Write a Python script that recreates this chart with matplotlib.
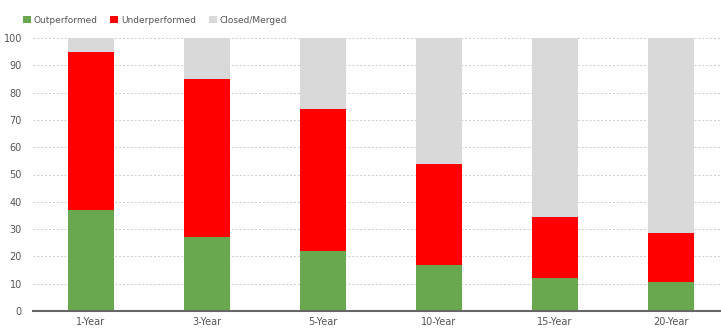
import numpy as np
import matplotlib
matplotlib.use("Agg")
import matplotlib.pyplot as plt
from matplotlib.patches import Patch

plt.rcParams['font.family'] = ['Liberation Sans Narrow', 'DejaVu Sans']

# data (percent of funds)
periods = ['1-Year', '3-Year', '5-Year', '10-Year', '15-Year', '20-Year']
outperformed = [37, 27, 22, 17, 12, 10.5]
underperformed = [58, 58, 52, 37, 22.5, 18]
closed_merged = [5, 15, 26, 46, 65.5, 71.5]
series_names = ['Outperformed', 'Underperformed', 'Closed/Merged']
colors = ['#6aa84f', '#ff0000', '#d9d9d9']

fig = plt.figure(figsize=(7.21, 3.29), dpi=100)
# right edge of the axes runs past the figure, like the cropped reference
ax = fig.add_axes([33 / 721, 18 / 329, 696 / 721, 273 / 329])

x = np.arange(len(periods))
w = 0.4
bottom = np.zeros(len(periods))
for vals, col in zip([outperformed, underperformed, closed_merged], colors):
    ax.bar(x, vals, w, bottom=bottom, color=col, zorder=3)
    bottom += np.array(vals)

ax.set_xlim(-0.5, 5.5)
ax.set_ylim(0, 100)
ax.set_yticks(range(0, 101, 10))
ax.set_xticks(x)
ax.set_xticklabels(periods)
ax.yaxis.grid(True, linestyle=(0, (2, 2)), color='#cccccc', linewidth=0.7, zorder=0)
for s in ['top', 'right', 'left']:
    ax.spines[s].set_visible(False)
ax.spines['bottom'].set_color('#666666')
ax.spines['bottom'].set_linewidth(1.5)
ax.spines['bottom'].set_zorder(4)
ax.tick_params(axis='both', length=0, labelsize=7, labelcolor='#555555')
ax.tick_params(axis='x', pad=4)
ax.tick_params(axis='y', pad=8)

handles = [Patch(facecolor=c, edgecolor='none') for c in colors]
fig.legend(handles, series_names, loc='upper left', bbox_to_anchor=(19 / 721, 1 - 12 / 329),
           ncol=3, frameon=False, fontsize=6.5, handlelength=0.9, handleheight=0.9,
           handletextpad=0.3, columnspacing=1.4, labelcolor='#555555', borderaxespad=0)

fig.savefig('out.png', dpi=100)
